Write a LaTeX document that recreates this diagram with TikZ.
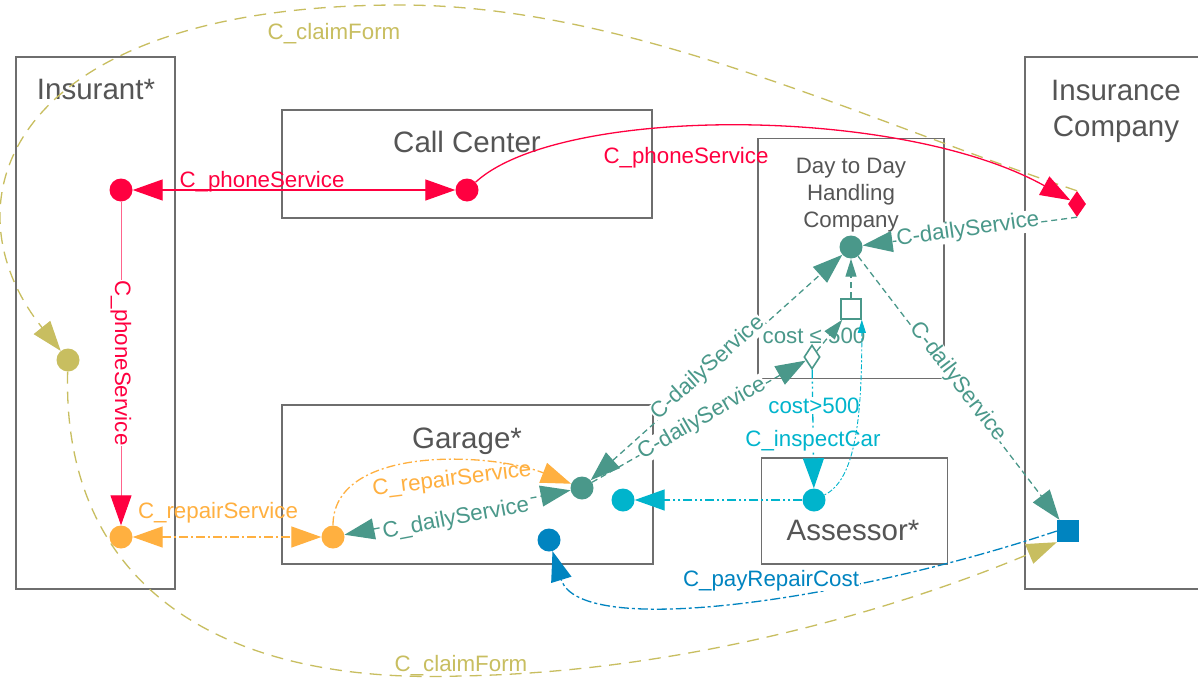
\documentclass[tikz,border=0pt]{standalone}
\usepackage{fontspec}
\setmainfont{Liberation Sans}
\usetikzlibrary{arrows.meta,shapes.geometric}
\definecolor{cred}{RGB}{255,0,64}
\definecolor{cpink}{RGB}{255,100,140}
\definecolor{corange}{RGB}{255,176,64}
\definecolor{cteal}{RGB}{74,152,138}
\definecolor{ccyan}{RGB}{0,180,204}
\definecolor{cblue}{RGB}{0,132,192}
\definecolor{colive}{RGB}{200,190,96}
\definecolor{cbox}{RGB}{110,110,110}
\definecolor{ctext}{RGB}{85,85,85}
\begin{document}
\begin{tikzpicture}[x=1pt,y=-1pt,
  box/.style={draw=cbox, line width=1.6pt, inner sep=0pt},
  title/.style={text=ctext, font=\fontsize{29.5}{36}\selectfont, align=center, inner sep=0pt},
  port/.style={circle, fill=#1, inner sep=0pt, minimum size=23pt},
  lbl/.style={text=#1, font=\fontsize{22.3}{27}\selectfont, inner sep=0.5pt},
  lblw/.style={lbl=#1, fill=white},
  conn/.style={line width=1.3pt},
  arrA/.style={-{Triangle[length=30pt,width=21pt]}},
  arrAB/.style={{Triangle[length=30pt,width=21pt]}-{Triangle[length=30pt,width=21pt]}},
  odash/.style={dash pattern=on 9pt off 3pt on 2pt off 3pt},
  tdash/.style={dash pattern=on 6pt off 4pt},
  cdash/.style={dash pattern=on 9pt off 3pt on 2pt off 3pt on 2pt off 3pt},
  bdash/.style={dash pattern=on 10pt off 3pt on 3pt off 3pt},
  ydash/.style={dash pattern=on 12pt off 8pt},
  dotdash/.style={dash pattern=on 2pt off 2pt on 5pt off 2pt}
]
\fill[white] (0,0) rectangle (1198,680);
\useasboundingbox (0,0) rectangle (1198,680);

% boxes
\node[box, minimum width=159pt, minimum height=532pt] (insurant) at (95.5,323) {};
\node[box, minimum width=370pt, minimum height=108pt] (callcenter) at (467,164) {};
\node[box, minimum width=186pt, minimum height=240pt] (dtd) at (851,258.5) {};
\node[box, minimum width=371pt, minimum height=159pt] (garage) at (467.5,484.5) {};
\node[box, minimum width=186pt, minimum height=106pt] (assessor) at (854.5,511) {};
\node[box, minimum width=200pt, minimum height=532pt] (insco) at (1125,323) {};

% titles
\node[title] (tInsurant) at (96,89) {Insurant*};
\node[title] (tCall) at (467,142) {Call Center};
\node[title] (tInsco) at (1116,111) {Insurance\\Company};
\node[title] (tGarage) at (467,441) {Garage*};
\node[title] (tAssessor) at (853,530) {Assessor*};
\node[lbl=ctext, align=center, inner sep=0pt] (tDtd) at (851,195) {Day to Day\\Handling\\Company};

% ports
\node[port=cred] (pI) at (121,190) {};
\node[port=cred] (pC) at (467,190) {};
\node[diamond, fill=cred, inner sep=0pt, minimum width=18pt, minimum height=26pt] (pIC) at (1077,204) {};
\node[port=corange] (oI) at (121,537) {};
\node[port=corange] (oG) at (333,537) {};
\node[port=cteal] (tG) at (582,488) {};
\node[port=ccyan] (cG) at (623,500) {};
\node[port=cblue] (bG) at (549,540) {};
\node[port=cteal] (tD) at (851,247) {};
\node[draw=cteal, fill=white, line width=1.6pt, inner sep=0pt, minimum size=20pt] (sq) at (851,309) {};
\node[diamond, draw=cteal, fill=white, line width=1.6pt, inner sep=0pt, minimum width=16pt, minimum height=24pt] (dia) at (812,357) {};
\node[port=ccyan] (cA) at (814,500) {};
\node[fill=cblue, inner sep=0pt, minimum size=22pt] (bI) at (1068,531) {};
\node[port=colive] (yI) at (68,360) {};

% claim form (olive)
\draw[conn, colive, ydash, arrA] (pIC.north) .. controls (851,115) and (626,5) .. (400,5) .. controls (10,5) and (-60,200) .. (yI);
\node[lbl=colive, anchor=base] (lClaimTop) at (334,39) {C\_claimForm};
\draw[conn, colive, ydash, arrA] (yI) .. controls (62,570) and (200,685) .. (460,676) .. controls (700,672) and (920,600) .. (bI.south west);
\node[lbl=colive, anchor=base] (lClaimBot) at (461,671) {C\_claimForm};

% phone service (red)
\draw[conn, cred, arrAB] (pI) -- (pC);
\node[lbl=cred, anchor=base] (lPhone1) at (262,187) {C\_phoneService};
\draw[conn, cred, arrA] (pC) .. controls (560,105) and (900,105) .. (pIC);
\node[lbl=cred, anchor=base] (lPhone2) at (686,163) {C\_phoneService};
\draw[line width=1pt, cpink, -{Triangle[length=30pt,width=21pt,color=cred]}] (pI) -- (oI);
\node[lblw=cred, rotate=-90] (lPhone3) at (121,363) {C\_phoneService};

% repair service (orange)
\draw[conn, corange, odash, arrAB] (oI) -- (oG);
\node[lbl=corange, anchor=base] (lRepair1) at (218,518) {C\_repairService};
\draw[conn, corange, odash, arrA] (oG.north) .. controls (333,445) and (490,452) .. (tG);
\node[lbl=corange, rotate=7] (lRepair2) at (452,480) {C\_repairService};

% daily service (teal)
\draw[conn, cteal, tdash, arrAB] (oG) -- (tG);
\node[lblw=cteal, rotate=10.8] (lDaily1) at (456,519) {C\_dailyService};
\draw[conn, cteal, tdash, arrAB] (tG) -- (tD);
\node[lblw=cteal, rotate=41.8] (lDaily2) at (708,368) {C-dailyService};
\draw[conn, cteal, tdash, arrA] (tG) -- (dia);
\node[lblw=cteal, rotate=30] (lDaily3) at (702,419) {C-dailyService};
\draw[conn, cteal, tdash, -{Triangle[length=20pt,width=13pt]}] (dia) -- (sq);
\node[lbl=cteal, anchor=base] (lCost1) at (814,343) {cost ≤ 500};
\draw[conn, cteal, tdash, -{Triangle[length=18pt,width=11pt]}] (sq) -- (tD);
\draw[conn, cteal, tdash, arrA] (tD) -- (bI);
\node[lblw=cteal, rotate=-52.7] (lDaily4) at (958,382) {C-dailyService};
\draw[conn, cteal, tdash, arrA] (pIC.south) -- (tD);
\node[lblw=cteal, rotate=8] (lDaily5) at (968,230) {C-dailyService};

% inspect car (cyan)
\draw[conn, ccyan, cdash, arrA] (dia) -- (cA);
\node[lblw=ccyan, anchor=base] (lCost2) at (814,413) {cost>500};
\node[lblw=ccyan, anchor=base] (lInspect) at (813,446) {C\_inspectCar};
\draw[conn, ccyan, cdash, arrA] (cA) -- (cG);
\draw[line width=0.9pt, ccyan, dotdash, -{Triangle[length=13pt,width=8pt]}] (cA) .. controls (855,480) and (862,420) .. (sq.south east);

% pay repair cost (blue)
\draw[conn, cblue, bdash, arrA] (bI.west) .. controls (850,600) and (580,640) .. (bG);
\node[lblw=cblue, anchor=base] (lPay) at (771,586) {C\_payRepairCost};
\end{tikzpicture}
\end{document}
